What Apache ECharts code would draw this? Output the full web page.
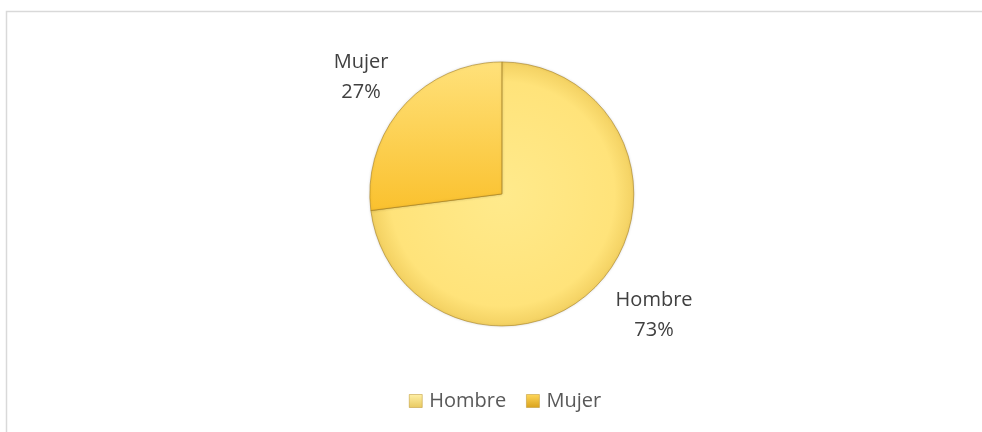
<!DOCTYPE html>
<html>
<head>
<meta charset="utf-8">
<script src="https://cdn.jsdelivr.net/npm/echarts@6/dist/echarts.min.js"></script>
<style>
html,body{margin:0;padding:0;background:#fff;}
#main{width:982px;height:432px;}
</style>
</head>
<body>
<div id="main"></div>
<script>
const categories = ['Hombre', 'Mujer'];
const values = [73, 27];

const colors = [
  new echarts.graphic.RadialGradient(0.5, 0.5, 0.5, [
    {offset: 0, color: '#FFEA8C'},
    {offset: 0.85, color: '#FFE37A'},
    {offset: 1, color: '#F3D162'}
  ]),
  new echarts.graphic.LinearGradient(0, 0, 0, 1, [
    {offset: 0, color: '#FFE17A'},
    {offset: 1, color: '#FAC12E'}
  ])
];
const legendColors = [
  new echarts.graphic.LinearGradient(0, 0, 0, 1, [
    {offset: 0, color: '#FFF0A6'},
    {offset: 1, color: '#E8C960'}
  ]),
  new echarts.graphic.LinearGradient(0, 0, 0, 1, [
    {offset: 0, color: '#FFD75A'},
    {offset: 1, color: '#D9A21C'}
  ])
];
const labelLines = [{length: 51, length2: 10}, {length: 45, length2: 3}];

const chart = echarts.init(document.getElementById('main'));
const font = '"Open Sans", "Noto Sans", sans-serif';
chart.setOption({
  animation: false,
  graphic: [{
    type: 'rect',
    shape: {x: 6.5, y: 11.5, width: 1000, height: 500},
    style: {fill: 'none', stroke: '#D9D9D9', lineWidth: 1.5},
    silent: true
  }],
  legend: {
    bottom: 16,
    left: 404,
    itemWidth: 13,
    itemHeight: 13,
    itemGap: 20,
    icon: 'rect',
    textStyle: {fontFamily: font, fontSize: 20, color: '#595959', padding: [0,0,0,2]},
    data: categories.map((c, i) => ({name: c, itemStyle: {color: legendColors[i], borderColor: '#B8902A', borderWidth: 0.5}}))
  },
  series: [{
    type: 'pie',
    center: ['51.1%', '44.9%'],
    radius: 132,
    startAngle: 90,
    clockwise: true,
    data: categories.map((c, i) => ({
      name: c,
      value: values[i],
      itemStyle: {color: colors[i]},
      labelLine: {show: false, length: labelLines[i].length, length2: labelLines[i].length2}
    })),
    itemStyle: {
      borderColor: 'rgba(160,120,20,0.55)',
      borderWidth: 1,
      shadowBlur: 3,
      shadowColor: 'rgba(0,0,0,0.15)'
    },
    label: {
      show: true,
      position: 'outside',
      formatter: '{b}\n{d}%',
      fontFamily: font,
      fontSize: 20,
      lineHeight: 30,
      color: '#404040'
    },
    labelLine: {show: false},
    labelLayout: function () { return {align: 'center'}; },
    emphasis: {disabled: true}
  }]
});
</script>
</body>
</html>
